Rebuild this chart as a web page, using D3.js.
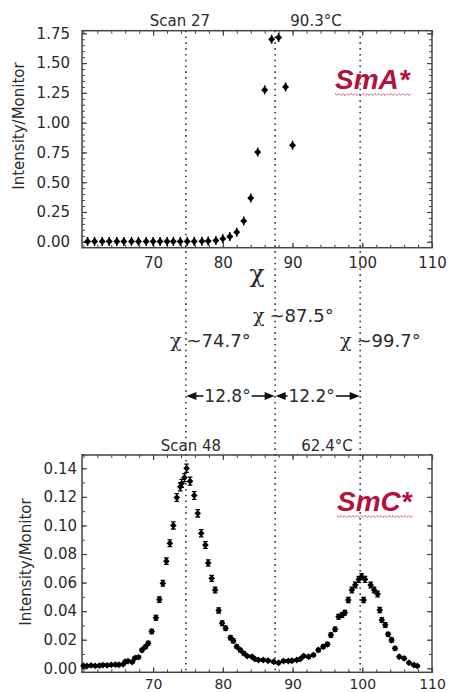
<!DOCTYPE html>
<html><head><meta charset="utf-8">
<script src="https://cdn.jsdelivr.net/npm/d3@7"></script>
<style>html,body{margin:0;padding:0;background:#fff;} svg{display:block;}</style>
</head><body>
<svg id="c" width="450" height="692"></svg>
<script>
// ---------- data ----------
const xTicks = [70, 80, 90, 100, 110];
const yTicksA = [0, 0.25, 0.5, 0.75, 1.0, 1.25, 1.5, 1.75];
const yTicksC = [0, 0.02, 0.04, 0.06, 0.08, 0.10, 0.12, 0.14];

// Scan 27, 90.3 C (SmA*)
const chiA = [60.6,61.6,62.7,63.7,64.8,65.8,66.9,67.9,69.0,70.0,71.0,72.0,72.9,73.9,74.9,75.9,
              77.0,77.9,79.0,80.0,81.0,82.0,83.0,84.0,85.0,86.0,87.0,88.0,89.0,90.0];
const intA = [0.003,0.003,0.003,0.003,0.003,0.003,0.003,0.003,0.003,0.003,0.003,0.003,0.003,0.003,0.003,0.003,
              0.004,0.006,0.011,0.025,0.043,0.080,0.174,0.367,0.753,1.275,1.700,1.715,1.300,0.810];

// Scan 48, 62.4 C (SmC*)
const chiC = [60.0,60.5,61.1,61.7,62.3,62.8,63.4,64.0,64.6,65.1,65.7,66.0,66.4,67.0,67.4,67.9,68.4,68.9,69.3,69.8,
              70.4,70.9,71.4,71.9,72.4,72.9,73.4,73.9,74.1,74.5,74.8,75.3,75.9,76.4,76.9,77.5,77.9,78.4,78.9,79.4,
              79.9,80.4,81.1,81.5,82.0,82.5,83.0,83.5,84.2,84.6,85.1,85.8,86.5,87.3,88.0,88.7,89.4,89.9,90.6,91.1,
              91.6,92.3,93.0,93.7,94.4,95.0,95.5,96.1,96.6,97.1,97.5,98.0,98.5,99.0,99.5,99.9,100.2,100.4,101.2,101.7,
              102.2,102.5,102.8,103.3,103.7,104.2,104.7,105.3,106.0,106.7,107.4,107.9];
const intC = [0.0018,0.0016,0.0020,0.0017,0.0019,0.0022,0.0021,0.0024,0.0026,0.0025,0.0028,0.0046,0.0050,0.0044,0.0072,0.0078,0.0128,0.0150,0.0175,0.0258,
              0.0354,0.0480,0.0595,0.0750,0.0875,0.1000,0.1195,0.1270,0.1295,0.1335,0.1400,0.1310,0.1210,0.1085,0.0945,0.0863,0.0737,0.0630,0.0548,0.0405,
              0.0315,0.0280,0.0214,0.0193,0.0151,0.0128,0.0105,0.0086,0.0081,0.0065,0.0058,0.0058,0.0053,0.0046,0.0039,0.0051,0.0051,0.0053,0.0058,0.0065,
              0.0086,0.0081,0.0093,0.0128,0.0151,0.0168,0.0233,0.0273,0.0361,0.0373,0.0389,0.0478,0.0548,0.0583,0.0623,0.0641,0.0478,0.0623,0.0583,0.0548,
              0.0520,0.0408,0.0338,0.0303,0.0238,0.0198,0.0140,0.0081,0.0070,0.0039,0.0023,0.0016];
const errC = [0.0008,0.0008,0.0008,0.0008,0.0008,0.0008,0.0008,0.0008,0.0008,0.0008,0.0008,0.0009,0.0009,0.0009,0.0010,0.0010,0.0012,0.0012,0.0013,0.0015,
              0.0017,0.0019,0.0020,0.0022,0.0024,0.0025,0.0027,0.0028,0.0028,0.0028,0.0029,0.0028,0.0027,0.0026,0.0025,0.0024,0.0022,0.0021,0.0020,0.0018,
              0.0016,0.0015,0.0014,0.0014,0.0012,0.0012,0.0011,0.0010,0.0010,0.0009,0.0009,0.0009,0.0009,0.0009,0.0008,0.0009,0.0009,0.0009,0.0009,0.0009,
              0.0010,0.0010,0.0010,0.0012,0.0012,0.0013,0.0014,0.0015,0.0017,0.0017,0.0017,0.0019,0.0020,0.0020,0.0021,0.0021,0.0019,0.0021,0.0020,0.0020,
              0.0020,0.0018,0.0017,0.0016,0.0014,0.0014,0.0012,0.0010,0.0010,0.0008,0.0008,0.0008];

const peakPositions = [74.7, 87.5, 99.7];
const peakLabels = ["~74.7°", "~87.5°", "~99.7°"];
const spacingLabels = ["12.8°", "12.2°"];
const topLabelsA = ["Scan 27", "90.3°C"];
const topLabelsC = ["Scan 48", "62.4°C"];
const phaseLabels = ["SmA*", "SmC*"];

// ---------- layout ----------
const svg = d3.select("#c");
const FONT = "'DejaVu Sans', sans-serif";
const CHI_FONT = "'DejaVu Serif', serif";
const TXT = "#2a2a2a";
const RED = "#b3123c";

const x = d3.scaleLinear().domain([59.8, 110]).range([82, 432]);
const yA = d3.scaleLinear().domain([-0.05, 1.772]).range([247.7, 30.7]);
const yC = d3.scaleLinear().domain([-0.0028, 0.1493]).range([672.3, 455]);

function minorRange(a, b, step) { return d3.range(a, b + step / 2, step).map(v => +v.toFixed(6)); }

function drawPanel(y, yTicks, yMinorStep, yPad, xPad, fmt, xFont) {
  const [x0, x1] = x.range();
  const [yb, yt] = y.range();
  const g = svg.append("g");
  const xMinor = minorRange(60, 110, 2);
  const yMinor = minorRange(0, y.domain()[1], yMinorStep);
  const ax = [
    d3.axisBottom(x).tickValues(xMinor).tickSize(-3).tickFormat(""),
    d3.axisTop(x).tickValues(xMinor).tickSize(-3).tickFormat(""),
    d3.axisLeft(y).tickValues(yMinor).tickSize(-3).tickFormat(""),
    d3.axisRight(y).tickValues(yMinor).tickSize(-3).tickFormat("")
  ];
  const tr = [`translate(0,${yb})`, `translate(0,${yt})`, `translate(${x0},0)`, `translate(${x1},0)`];
  ax.forEach((a, i) => {
    const s = g.append("g").attr("transform", tr[i]).call(a);
    s.select(".domain").remove();
    s.selectAll("line").attr("stroke", "#444").attr("stroke-width", 1);
  });
  const bx = g.append("g").attr("transform", `translate(0,${yb})`)
    .call(d3.axisBottom(x).tickValues(xTicks).tickSize(-5).tickPadding(xPad).tickFormat(d3.format("d")));
  const tx = g.append("g").attr("transform", `translate(0,${yt})`)
    .call(d3.axisTop(x).tickValues(xTicks).tickSize(-5).tickFormat(""));
  const ly = g.append("g").attr("transform", `translate(${x0},0)`)
    .call(d3.axisLeft(y).tickValues(yTicks).tickSize(-5).tickPadding(yPad).tickFormat(fmt));
  const ry = g.append("g").attr("transform", `translate(${x1},0)`)
    .call(d3.axisRight(y).tickValues(yTicks).tickSize(-5).tickFormat(""));
  [bx, tx, ly, ry].forEach(s => {
    s.select(".domain").remove();
    s.selectAll("line").attr("stroke", "#444").attr("stroke-width", 1.2);
    s.selectAll("text").attr("font-family", FONT).attr("font-size", 15).attr("fill", TXT);
  });
  bx.selectAll("text").attr("font-size", xFont);
  g.append("rect").attr("x", x0).attr("y", yt).attr("width", x1 - x0).attr("height", yb - yt)
    .attr("fill", "none").attr("stroke", "#444").attr("stroke-width", 1.5);
  return g;
}

const fmt2 = d3.format(".2f");
drawPanel(yA, yTicksA, 0.05, 12, 9.6, fmt2, 15);
drawPanel(yC, yTicksC, 0.01, 5, 7, fmt2, 14);

// dotted vertical peak lines spanning both panels
svg.append("g").selectAll("line").data(peakPositions).join("line")
  .attr("x1", d => x(d)).attr("x2", d => x(d))
  .attr("y1", yA.range()[1]).attr("y2", yC.range()[0])
  .attr("stroke", "#444").attr("stroke-width", 1.7).attr("stroke-dasharray", "1.6,4.2");

// y axis titles
function yTitle(cx, cy) {
  svg.append("text").attr("transform", `translate(${cx},${cy}) rotate(-90)`)
    .attr("text-anchor", "middle").attr("dominant-baseline", "central")
    .attr("font-family", FONT).attr("font-size", 15).attr("fill", TXT).text("Intensity/Monitor");
}
yTitle(19, 126);
yTitle(26, 562);

// chi axis title (top panel)
svg.append("text").attr("x", 257).attr("y", 282).attr("text-anchor", "middle")
  .attr("font-family", CHI_FONT).attr("font-size", 25).attr("fill", TXT).text("χ");

// panel header labels
function header(labels, yb, cxs) {
  labels.forEach((t, i) => svg.append("text").attr("x", cxs[i]).attr("y", yb).attr("text-anchor", "middle")
    .attr("font-family", FONT).attr("font-size", 15).attr("fill", TXT).text(t));
}
header(topLabelsA, 26, [180, 316]);
header(topLabelsC, 451, [191, 327]);

// phase labels with wavy underline
function phase(t, x0, yb) {
  const tx = svg.append("text").attr("x", x0).attr("y", yb)
    .attr("font-family", "'Liberation Sans', Arial, sans-serif").attr("font-size", 28)
    .attr("font-weight", "bold").attr("font-style", "italic").attr("fill", RED).text(t);
  const w = tx.node().getComputedTextLength();
  const pts = d3.range(0, Math.ceil(w / 2) + 1).map(i => [x0 + i * 2, yb + 5 + (i % 2 ? 1.4 : -0.4)]);
  svg.append("path").attr("d", d3.line()(pts)).attr("fill", "none").attr("stroke", RED)
    .attr("stroke-width", 1).attr("stroke-dasharray", "1.2,0.8");
}
phase(phaseLabels[0], 335, 89);
phase(phaseLabels[1], 337, 511);

// peak position annotations
const peakLabelPos = [[170, 346.5], [253, 321.5], [340, 346.5]];
peakLabels.forEach((t, i) => {
  const tt = svg.append("text").attr("x", peakLabelPos[i][0]).attr("y", peakLabelPos[i][1])
    .attr("font-family", FONT).attr("font-size", 18).attr("fill", TXT);
  tt.append("tspan").attr("font-family", CHI_FONT).attr("font-size", 19).text("χ");
  tt.append("tspan").attr("dx", 5).text(t);
});

// spacing arrows
const arrowY = 396;
spacingLabels.forEach((t, i) => {
  const xa = x(peakPositions[i]) + 0.5, xb = x(peakPositions[i + 1]) - 0.5;
  const cx = (xa + xb) / 2 - (i === 0 ? 3 : 6);
  const tx = svg.append("text").attr("x", cx).attr("y", arrowY + 6).attr("text-anchor", "middle")
    .attr("font-family", FONT).attr("font-size", 17).attr("fill", TXT).text(t);
  const w = tx.node().getComputedTextLength();
  const l = cx - w / 2 - 1, r = cx + w / 2 + 1;
  const g = svg.append("g").attr("fill", "#111").attr("stroke", "#111");
  g.append("line").attr("x1", xa + 6).attr("x2", l).attr("y1", arrowY).attr("y2", arrowY).attr("stroke-width", 1.6);
  g.append("line").attr("x1", r).attr("x2", xb - 6).attr("y1", arrowY).attr("y2", arrowY).attr("stroke-width", 1.6);
  g.append("path").attr("stroke", "none").attr("d", `M${xa},${arrowY} L${xa + 10},${arrowY - 4} L${xa + 10},${arrowY + 4} Z`);
  g.append("path").attr("stroke", "none").attr("d", `M${xb},${arrowY} L${xb - 10},${arrowY - 4} L${xb - 10},${arrowY + 4} Z`);
});

// ---------- marks ----------
const dataA = chiA.map((c, i) => ({ c, v: intA[i] }));
const gA = svg.append("g");
gA.selectAll("line").data(dataA).join("line")
  .attr("x1", d => x(d.c)).attr("x2", d => x(d.c))
  .attr("y1", d => yA(d.v) - 4.5).attr("y2", d => yA(d.v) + 4.5)
  .attr("stroke", "#000").attr("stroke-width", 1.5);
gA.selectAll("path").data(dataA).join("path")
  .attr("d", d => { const px = x(d.c), py = yA(d.v); return `M${px - 3.5},${py} L${px},${py - 3.6} L${px + 3.5},${py} L${px},${py + 3.6} Z`; })
  .attr("fill", "#000");

const dataC = chiC.map((c, i) => ({ c, v: intC[i], e: errC[i] }));
const gC = svg.append("g").attr("stroke", "#000");
gC.selectAll(".eb").data(dataC).join("path").attr("class", "eb")
  .attr("d", d => {
    const px = x(d.c), y1 = yC(d.v + d.e), y2 = yC(d.v - d.e);
    return `M${px},${y1} V${y2} M${px - 2.3},${y1} H${px + 2.3} M${px - 2.3},${y2} H${px + 2.3}`;
  })
  .attr("fill", "none").attr("stroke-width", 1.3);
gC.selectAll(".mk").data(dataC).join("path").attr("class", "mk")
  .attr("d", d => { const px = x(d.c), py = yC(d.v); return `M${px - 3.3},${py} L${px},${py - 3.4} L${px + 3.3},${py} L${px},${py + 3.4} Z`; })
  .attr("fill", "#000").attr("stroke", "none");
</script>
</body></html>
